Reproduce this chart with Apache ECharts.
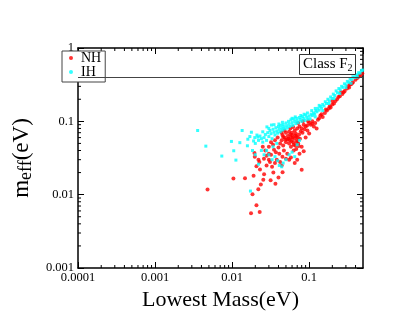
<!DOCTYPE html>
<html><head><meta charset="utf-8">
<script src="https://cdn.jsdelivr.net/npm/echarts@6/dist/echarts.min.js"></script>
<style>html,body{margin:0;padding:0;background:#fff}#c{width:409px;height:316px}</style>
</head><body><div id="c"></div>
<script>
const xTickLabels = ['0.0001','0.001','0.01','0.1'];
const yTickLabels = ['0.001','0.01','0.1','1'];
const xRange = [0.0001, 0.5];
const yRange = [0.001, 1];
const refLine = 0.4;
const legendNames = ['NH','IH'];

const nhData = [
[0.0048,0.0118],[0.0104,0.0166],[0.0147,0.0167],[0.0176,0.0056],[0.0228,0.0058],[0.0207,0.0072],[0.0184,0.0101],[0.0236,0.0138],[0.0219,0.0119],[0.019,0.0181],[0.0254,0.016],[0.0316,0.0157],[0.0365,0.0141],[0.040,0.0171],[0.0343,0.0201],[0.0452,0.0202],[0.080,0.0219],
[0.0207,0.0245],[0.0226,0.028],[0.0259,0.031],[0.0197,0.0329],[0.030,0.036],[0.0195,0.037],[0.022,0.030],[0.028,0.025],[0.031,0.028],[0.033,0.024],[0.036,0.027],[0.038,0.030],[0.042,0.028],[0.045,0.033],[0.05,0.031],[0.055,0.030],[0.058,0.032],[0.065,0.027],[0.07,0.030],[0.075,0.036],[0.085,0.039],
[0.03,0.045],[0.032,0.052],[0.034,0.048],[0.035,0.041],[0.037,0.038],[0.04,0.044],[0.042,0.05],[0.044,0.055],[0.046,0.047],[0.048,0.06],[0.05,0.052],[0.052,0.057],[0.053,0.063],[0.055,0.05],[0.056,0.055],[0.058,0.06],[0.06,0.065],[0.062,0.052],[0.064,0.058],[0.066,0.047],[0.068,0.062],[0.07,0.055],[0.072,0.05],[0.074,0.066],[0.076,0.058],[0.08,0.045],[0.082,0.07],[0.09,0.06],[0.095,0.075],[0.1,0.068],
[0.036,0.055],[0.041,0.036],[0.047,0.04],[0.039,0.06],[0.045,0.065],[0.05,0.07],[0.055,0.072],[0.06,0.07],[0.065,0.075],[0.07,0.08],[0.075,0.085],[0.08,0.08],[0.085,0.09],[0.09,0.085],[0.1,0.095],[0.105,0.09],[0.11,0.1],[0.115,0.085],[0.12,0.095],[0.125,0.08],
[0.13,0.105],[0.14,0.12],[0.15,0.115],[0.16,0.13],[0.17,0.14],[0.18,0.15],[0.19,0.155],[0.2,0.17],[0.21,0.175],[0.22,0.19],[0.23,0.2],[0.25,0.22],[0.27,0.235],[0.29,0.26],[0.31,0.28],[0.33,0.29],[0.35,0.32],[0.37,0.34],[0.4,0.37],[0.43,0.4],[0.46,0.42],[0.49,0.45],
[0.027,0.04],[0.025,0.045],[0.028,0.034],[0.023,0.022],[0.026,0.019],[0.044,0.025],[0.052,0.036],[0.063,0.04],[0.058,0.045],[0.068,0.042],[0.073,0.046],[0.044,0.07],[0.057,0.08],[0.062,0.084],[0.048,0.075],[0.03,0.03],[0.032,0.035],[0.067,0.068],[0.078,0.073],[0.087,0.078],[0.094,0.088],
[0.11,0.093],[0.135,0.11],[0.145,0.125],[0.165,0.145],[0.185,0.16],[0.24,0.215],[0.28,0.25],[0.32,0.3],[0.36,0.33],[0.42,0.39],[0.45,0.43],
[0.054,0.058],[0.059,0.054],[0.061,0.06],[0.049,0.056],[0.066,0.064],[0.071,0.06],[0.046,0.061],[0.057,0.066],[0.063,0.048],[0.069,0.052],[0.083,0.1],[0.097,0.1],[0.072,0.095],[0.2,0.19],[0.26,0.25],[0.34,0.32]
];

const ihData = [
[0.00357,0.075],[0.00456,0.0459],[0.00735,0.0336],[0.0098,0.0532],[0.0105,0.0397],[0.0112,0.0296],[0.0126,0.0512],[0.0135,0.075],[0.0158,0.0464],[0.0178,0.071],[0.017,0.062],[0.0173,0.0112],[0.0197,0.06],[0.0216,0.061],[0.0184,0.040],[0.0283,0.084],[0.0324,0.089],[0.0405,0.092],
[0.02,0.05],[0.022,0.055],[0.024,0.058],[0.023,0.063],[0.025,0.052],[0.026,0.06],[0.027,0.066],[0.028,0.055],[0.029,0.07],[0.03,0.062],[0.031,0.075],[0.032,0.068],[0.033,0.058],[0.034,0.078],[0.035,0.071],[0.036,0.065],[0.037,0.082],[0.038,0.074],[0.039,0.069],[0.04,0.085],[0.041,0.078],[0.042,0.072],[0.043,0.088],[0.044,0.081],[0.045,0.076],[0.046,0.09],[0.047,0.084],[0.048,0.079],[0.05,0.095],[0.051,0.087],[0.052,0.081],[0.054,0.1],[0.055,0.092],[0.056,0.085],[0.058,0.105],[0.06,0.096],[0.061,0.088],[0.063,0.108],[0.065,0.1],[0.067,0.093],[0.069,0.11],[0.07,0.102],[0.072,0.096],[0.075,0.113],[0.077,0.106],[0.08,0.1],[0.082,0.116],[0.085,0.109],[0.088,0.103],[0.09,0.122],[0.093,0.114],[0.096,0.107],
[0.1,0.118],[0.103,0.108],[0.106,0.125],[0.11,0.12],[0.114,0.13],[0.118,0.125],[0.122,0.14],[0.126,0.135],[0.13,0.15],[0.135,0.142],[0.14,0.16],[0.145,0.152],[0.15,0.17],[0.156,0.162],[0.162,0.185],[0.168,0.175],[0.175,0.2],[0.182,0.19],[0.19,0.215],[0.198,0.205],[0.206,0.235],[0.215,0.225],[0.224,0.26],[0.233,0.245],[0.243,0.28],[0.253,0.27],[0.264,0.3],[0.275,0.29],[0.287,0.325],[0.3,0.315],[0.313,0.35],[0.326,0.34],[0.34,0.375],[0.355,0.37],[0.37,0.405],[0.386,0.395],[0.403,0.43],[0.42,0.425],[0.438,0.46],[0.457,0.455],[0.477,0.49],[0.495,0.5],
[0.12,0.115],[0.15,0.14],[0.18,0.175],[0.21,0.205],[0.25,0.24],[0.3,0.29],[0.35,0.33],[0.42,0.4],
[0.028,0.04],[0.03,0.035],[0.033,0.03],[0.036,0.033],[0.039,0.029],[0.041,0.025],[0.044,0.024],[0.046,0.027],[0.05,0.03],[0.055,0.035],[0.06,0.038],[0.065,0.033],[0.07,0.048],[0.075,0.055],[0.034,0.045],[0.038,0.05],[0.024,0.04],[0.026,0.035],[0.022,0.026],[0.02,0.035],
[0.025,0.072],[0.03,0.08],[0.035,0.09],[0.045,0.097],[0.06,0.11],[0.066,0.115],[0.078,0.12],[0.086,0.125],[0.095,0.13],[0.108,0.14],[0.12,0.15],[0.135,0.165],[0.016,0.057],[0.019,0.054],[0.021,0.065]
];

const FONT = '"Liberation Serif", "DejaVu Serif", serif';
const mults = [2,3,4,5,6,7,8,9];
function minorList(lo, hi) {
  const out = [];
  for (let e = Math.round(Math.log10(lo)); e < Math.round(Math.log10(hi)) + 1; e++) {
    mults.forEach(m => { const v = m * Math.pow(10, e); if (v > lo && v < hi) out.push(v); });
  }
  return out;
}
const minorX = minorList(xRange[0], xRange[1]);
const minorY = minorList(yRange[0], yRange[1]);

function labelFor(list, lo) {
  return function (v) {
    const i = Math.round(Math.log10(v) - Math.log10(lo));
    return list[i] !== undefined ? list[i] : '';
  };
}

const chart = echarts.init(document.getElementById('c'), null, {renderer: 'canvas'});
const axisLine = {show: true, lineStyle: {color: '#000', width: 1.5}};
const majorTick = {show: true, inside: true, length: 6, lineStyle: {color: '#000', width: 1}};

chart.setOption({
  animation: false,
  backgroundColor: '#fff',
  grid: {left: 48, right: 46, top: 48, bottom: 48},
  title: {
    text: '{a|Class F}{b|2}',
    left: 299, top: 53,
    padding: [3, 3, 2, 4],
    borderColor: '#333', borderWidth: 1, backgroundColor: '#fff',
    textStyle: {
      fontWeight: 'normal',
      rich: {
        a: {fontFamily: FONT, fontSize: 15, fontWeight: 'normal', color: '#000', lineHeight: 17},
        b: {fontFamily: FONT, fontSize: 10, fontWeight: 'normal', color: '#000', verticalAlign: 'bottom', lineHeight: 17, padding: [6, 0, 0, 0]}
      }
    }
  },
  legend: {
    data: [{name: legendNames[0], icon: 'circle'}, {name: legendNames[1], icon: 'circle'}],
    orient: 'vertical',
    left: 62, top: 51,
    padding: [0, 4, 3, 7],
    itemWidth: 4, itemHeight: 13, itemGap: 0,
    symbolKeepAspect: true,
    borderColor: '#444', borderWidth: 1, backgroundColor: '#fff',
    textStyle: {fontFamily: FONT, fontSize: 14, color: '#000', lineHeight: 13, padding: [0, 0, 0, 3]}
  },
  xAxis: [{
    type: 'log', logBase: 10, min: xRange[0], max: xRange[1],
    position: 'bottom',
    axisLine: axisLine, axisTick: majorTick, splitLine: {show: false},
    axisLabel: {fontFamily: FONT, fontSize: 12.5, color: '#000', margin: 3, showMaxLabel: false, formatter: labelFor(xTickLabels, xRange[0])},
    name: 'Lowest Mass(eV)', nameLocation: 'middle', nameGap: 16,
    nameTextStyle: {fontFamily: FONT, fontSize: 22, color: '#000'}
  }, {
    type: 'log', logBase: 10, min: xRange[0], max: xRange[1],
    position: 'top',
    axisLine: axisLine, axisTick: majorTick, splitLine: {show: false},
    axisLabel: {show: false}
  }],
  yAxis: [{
    type: 'log', logBase: 10, min: yRange[0], max: yRange[1],
    position: 'left',
    axisLine: axisLine, axisTick: majorTick, splitLine: {show: false},
    axisLabel: {fontFamily: FONT, fontSize: 12.5, color: '#000', margin: 4, formatter: labelFor(yTickLabels, yRange[0])},
    name: '{a|m}{b|eff}{a|(eV)}', nameLocation: 'middle', nameGap: 26, nameRotate: 90,
    nameTextStyle: {
      rich: {
        a: {fontFamily: FONT, fontSize: 23, color: '#000', lineHeight: 26},
        b: {fontFamily: FONT, fontSize: 18, color: '#000', lineHeight: 26, verticalAlign: 'bottom', padding: [9, 0, 0, 0]}
      }
    }
  }, {
    type: 'log', logBase: 10, min: yRange[0], max: yRange[1],
    position: 'right',
    axisLine: axisLine, axisTick: majorTick, splitLine: {show: false},
    axisLabel: {show: false}
  }],
  series: [
    {
      name: 'NH', type: 'scatter', data: nhData, symbol: 'circle', symbolSize: 4,
      itemStyle: {color: '#ff0000'}, xAxisIndex: 0, yAxisIndex: 0,
      markLine: {
        silent: true, symbol: 'none', label: {show: false},
        lineStyle: {color: '#444', width: 1, type: 'solid'},
        data: [{yAxis: refLine}]
      }
    },
    {
      name: 'IH', type: 'scatter', data: ihData, symbol: 'rect', symbolSize: 3,
      itemStyle: {color: '#00ffff'}, xAxisIndex: 0, yAxisIndex: 0
    },
    {
      type: 'custom', silent: true, xAxisIndex: 0, yAxisIndex: 0,
      data: minorX.map(v => [v, 0.01]),
      renderItem: function (params, api) {
        const cs = params.coordSys;
        const px = api.coord([api.value(0), 0.01])[0];
        const st = {stroke: '#000', lineWidth: 1};
        return {type: 'group', children: [
          {type: 'line', shape: {x1: px, y1: cs.y + cs.height, x2: px, y2: cs.y + cs.height - 3}, style: st},
          {type: 'line', shape: {x1: px, y1: cs.y, x2: px, y2: cs.y + 3}, style: st}
        ]};
      }
    },
    {
      type: 'custom', silent: true, xAxisIndex: 0, yAxisIndex: 0,
      data: minorY.map(v => [0.01, v]),
      renderItem: function (params, api) {
        const cs = params.coordSys;
        const py = api.coord([0.01, api.value(1)])[1];
        const st = {stroke: '#000', lineWidth: 1};
        return {type: 'group', children: [
          {type: 'line', shape: {x1: cs.x, y1: py, x2: cs.x + 3, y2: py}, style: st},
          {type: 'line', shape: {x1: cs.x + cs.width, y1: py, x2: cs.x + cs.width - 3, y2: py}, style: st}
        ]};
      }
    }
  ]
});
</script>
</body></html>
